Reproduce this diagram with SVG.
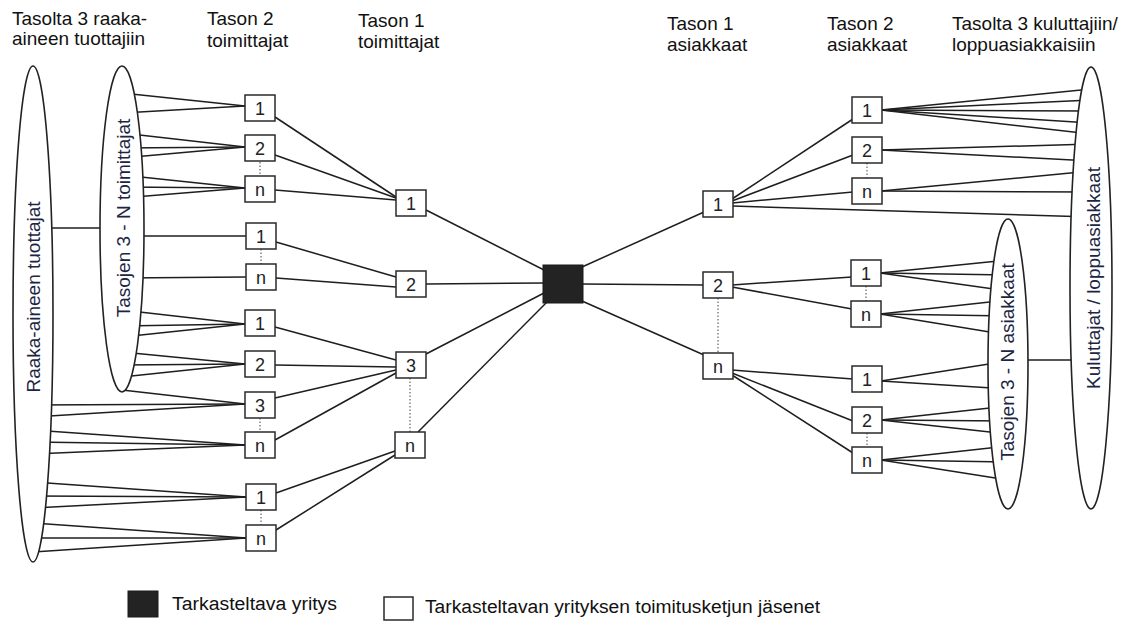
<svg xmlns="http://www.w3.org/2000/svg" width="1134" height="621" viewBox="0 0 1134 621">
  <style>
    .hdr { font-family: "Liberation Sans", Arial, sans-serif; font-size: 19px; fill: #111; }
    .vt { font-family: "Liberation Sans", Arial, sans-serif; font-size: 19px; fill: #1c2542; text-anchor: middle; }
    .num { font-family: "Liberation Sans", Arial, sans-serif; font-size: 18px; fill: #222; text-anchor: middle; }
    .leg { font-family: "Liberation Sans", Arial, sans-serif; font-size: 18px; fill: #111; }
    .box { fill: #fff; stroke: #2a2a2a; stroke-width: 1.5; }
    .core { fill: #232323; stroke: #1a1a1a; stroke-width: 1; }
    .oval { fill: #fff; stroke: #222; stroke-width: 1.6; }
    .lnk line { stroke: #1e1e1e; stroke-width: 1.5; }
    .dots line { stroke: #444; stroke-width: 1; stroke-dasharray: 1.5 2; }
  </style>
  <defs>
    <rect id="b" class="box" x="-15" y="-13" width="30" height="26"/>
  </defs>

  <rect width="1134" height="621" fill="#fff"/>

  <!-- column headings -->
  <g id="headings">
    <text class="hdr" x="12" y="25">Tasolta 3 raaka-</text>
    <text class="hdr" x="12" y="45">aineen tuottajiin</text>
    <text class="hdr" x="207" y="25">Tason 2</text>
    <text class="hdr" x="207" y="47">toimittajat</text>
    <text class="hdr" x="358" y="27">Tason 1</text>
    <text class="hdr" x="358" y="48">toimittajat</text>
    <text class="hdr" x="667" y="30">Tason 1</text>
    <text class="hdr" x="667" y="51">asiakkaat</text>
    <text class="hdr" x="827" y="30">Tason 2</text>
    <text class="hdr" x="827" y="51">asiakkaat</text>
    <text class="hdr" x="952" y="30">Tasolta 3 kuluttajiin/</text>
    <text class="hdr" x="952" y="51">loppuasiakkaisiin</text>
  </g>

  <!-- connectors -->
  <g id="connectors">
    <g class="lnk">
      <!-- raw material producers to tier 3..N suppliers -->
      <line x1="33" y1="228" x2="122" y2="228"/>
      <!-- tier 3..N suppliers to tier 2 suppliers -->
      <line x1="122" y1="93" x2="245" y2="106"/>
      <line x1="122" y1="113" x2="245" y2="106"/>
      <line x1="122" y1="133" x2="245" y2="147"/>
      <line x1="122" y1="148" x2="245" y2="147"/>
      <line x1="122" y1="158" x2="245" y2="147"/>
      <line x1="122" y1="175" x2="245" y2="188"/>
      <line x1="122" y1="187" x2="245" y2="188"/>
      <line x1="122" y1="198" x2="245" y2="188"/>
      <line x1="122" y1="236" x2="246" y2="236"/>
      <line x1="122" y1="278" x2="246" y2="277"/>
      <line x1="122" y1="310" x2="245" y2="324"/>
      <line x1="122" y1="326" x2="245" y2="324"/>
      <line x1="122" y1="337" x2="245" y2="324"/>
      <line x1="122" y1="352" x2="245" y2="364"/>
      <line x1="122" y1="365" x2="245" y2="364"/>
      <line x1="122" y1="377" x2="245" y2="364"/>
      <line x1="122" y1="390" x2="245" y2="404"/>
      <!-- raw material producers to tier 2 suppliers -->
      <line x1="33" y1="405" x2="245" y2="404"/>
      <line x1="33" y1="417" x2="245" y2="404"/>
      <line x1="33" y1="430" x2="245" y2="445"/>
      <line x1="33" y1="442" x2="245" y2="445"/>
      <line x1="33" y1="454" x2="245" y2="445"/>
      <line x1="33" y1="482" x2="246" y2="497"/>
      <line x1="33" y1="496" x2="246" y2="497"/>
      <line x1="33" y1="508" x2="246" y2="497"/>
      <line x1="33" y1="523" x2="246" y2="538"/>
      <line x1="33" y1="538" x2="246" y2="538"/>
      <line x1="33" y1="552" x2="246" y2="538"/>
      <!-- tier 2 to tier 1 suppliers -->
      <line x1="275" y1="117" x2="396" y2="197"/>
      <line x1="275" y1="155" x2="396" y2="198"/>
      <line x1="275" y1="190" x2="396" y2="200"/>
      <line x1="276" y1="242" x2="396" y2="277"/>
      <line x1="276" y1="278" x2="396" y2="287"/>
      <line x1="275" y1="327" x2="396" y2="360"/>
      <line x1="275" y1="365" x2="396" y2="367"/>
      <line x1="275" y1="398" x2="396" y2="370"/>
      <line x1="275" y1="440" x2="396" y2="373"/>
      <line x1="276" y1="493" x2="395" y2="451"/>
      <line x1="276" y1="530" x2="395" y2="455"/>
      <!-- tier 1 suppliers to focal company -->
      <line x1="426" y1="210" x2="544" y2="270"/>
      <line x1="426" y1="284" x2="544" y2="283"/>
      <line x1="426" y1="354" x2="544" y2="293"/>
      <line x1="418" y1="432" x2="547" y2="302"/>
      <!-- focal company to tier 1 customers -->
      <line x1="582" y1="267" x2="704" y2="212"/>
      <line x1="582" y1="284" x2="704" y2="285"/>
      <line x1="582" y1="301" x2="704" y2="355"/>
      <!-- tier 1 to tier 2 customers -->
      <line x1="732" y1="199" x2="853" y2="119"/>
      <line x1="732" y1="201" x2="853" y2="155"/>
      <line x1="732" y1="203" x2="853" y2="192"/>
      <line x1="732" y1="206" x2="1091" y2="217"/>
      <line x1="732" y1="285" x2="852" y2="277"/>
      <line x1="732" y1="287" x2="852" y2="309"/>
      <line x1="732" y1="370" x2="853" y2="379"/>
      <line x1="732" y1="373" x2="853" y2="421"/>
      <line x1="732" y1="375" x2="853" y2="453"/>
      <!-- tier 2 customers to end customers -->
      <line x1="881" y1="110" x2="1091" y2="89"/>
      <line x1="881" y1="110" x2="1091" y2="100"/>
      <line x1="881" y1="110" x2="1091" y2="111"/>
      <line x1="881" y1="110" x2="1091" y2="123"/>
      <line x1="881" y1="110" x2="1091" y2="134"/>
      <line x1="881" y1="150" x2="1091" y2="144"/>
      <line x1="881" y1="150" x2="1091" y2="161"/>
      <line x1="881" y1="191" x2="1091" y2="171"/>
      <line x1="881" y1="191" x2="1091" y2="192"/>
      <!-- tier 2 customers to tier 3..N customers -->
      <line x1="880" y1="273" x2="1008" y2="260"/>
      <line x1="880" y1="273" x2="1008" y2="275"/>
      <line x1="880" y1="273" x2="1008" y2="291"/>
      <line x1="880" y1="314" x2="1008" y2="300"/>
      <line x1="880" y1="314" x2="1008" y2="316"/>
      <line x1="880" y1="314" x2="1008" y2="335"/>
      <line x1="881" y1="381" x2="1008" y2="361"/>
      <line x1="881" y1="381" x2="1008" y2="389"/>
      <line x1="881" y1="420" x2="1008" y2="406"/>
      <line x1="881" y1="420" x2="1008" y2="421"/>
      <line x1="881" y1="420" x2="1008" y2="434"/>
      <line x1="881" y1="460" x2="1008" y2="446"/>
      <line x1="881" y1="460" x2="1008" y2="462"/>
      <line x1="881" y1="460" x2="1008" y2="480"/>
      <!-- tier 3..N customers to end customers -->
      <line x1="1008" y1="360" x2="1091" y2="360"/>
    </g>
    <g class="dots">
      <line x1="260" y1="162" x2="260" y2="176"/>
      <line x1="261" y1="249" x2="261" y2="264"/>
      <line x1="260" y1="418" x2="260" y2="432"/>
      <line x1="261" y1="510" x2="261" y2="525"/>
      <line x1="410" y1="378" x2="410" y2="432"/>
      <line x1="718" y1="298" x2="718" y2="353"/>
      <line x1="867" y1="163" x2="867" y2="178"/>
      <line x1="866" y1="286" x2="866" y2="301"/>
      <line x1="867" y1="433" x2="867" y2="447"/>
    </g>
  </g>

  <!-- groupings drawn as ovals -->
  <g id="raw-material-producers">
    <ellipse class="oval" cx="33" cy="314" rx="20" ry="248"/>
    <text class="vt" transform="translate(33,297) rotate(-90)" dy="0.35em">Raaka-aineen tuottajat</text>
  </g>
  <g id="tier3n-suppliers">
    <ellipse class="oval" cx="122" cy="229" rx="22" ry="163"/>
    <text class="vt" transform="translate(123,218) rotate(-90)" dy="0.35em">Tasojen 3 - N toimittajat</text>
  </g>
  <g id="tier3n-customers">
    <ellipse class="oval" cx="1008" cy="364" rx="20" ry="145"/>
    <text class="vt" transform="translate(1007,362) rotate(-90)" dy="0.35em">Tasojen 3 - N asiakkaat</text>
  </g>
  <g id="end-customers">
    <ellipse class="oval" cx="1091" cy="288" rx="21" ry="221"/>
    <text class="vt" transform="translate(1093,278) rotate(-90)" dy="0.35em">Kuluttajat / loppuasiakkaat</text>
  </g>

  <!-- tier 2 suppliers -->
  <g id="s2-a1" transform="translate(260,108)"><use href="#b"/><text class="num" y="6.5">1</text></g>
  <g id="s2-a2" transform="translate(260,148)"><use href="#b"/><text class="num" y="6.5">2</text></g>
  <g id="s2-an" transform="translate(260,189)"><use href="#b"/><text class="num" y="6.5">n</text></g>
  <g id="s2-b1" transform="translate(261,236)"><use href="#b"/><text class="num" y="6.5">1</text></g>
  <g id="s2-bn" transform="translate(261,277)"><use href="#b"/><text class="num" y="6.5">n</text></g>
  <g id="s2-c1" transform="translate(260,323)"><use href="#b"/><text class="num" y="6.5">1</text></g>
  <g id="s2-c2" transform="translate(260,364)"><use href="#b"/><text class="num" y="6.5">2</text></g>
  <g id="s2-c3" transform="translate(260,405)"><use href="#b"/><text class="num" y="6.5">3</text></g>
  <g id="s2-cn" transform="translate(260,445)"><use href="#b"/><text class="num" y="6.5">n</text></g>
  <g id="s2-d1" transform="translate(261,497)"><use href="#b"/><text class="num" y="6.5">1</text></g>
  <g id="s2-dn" transform="translate(261,538)"><use href="#b"/><text class="num" y="6.5">n</text></g>

  <!-- tier 1 suppliers -->
  <g id="s1-1" transform="translate(411,203)"><use href="#b"/><text class="num" y="6.5">1</text></g>
  <g id="s1-2" transform="translate(411,284)"><use href="#b"/><text class="num" y="6.5">2</text></g>
  <g id="s1-3" transform="translate(411,365)"><use href="#b"/><text class="num" y="6.5">3</text></g>
  <g id="s1-n" transform="translate(410,445)"><use href="#b"/><text class="num" y="6.5">n</text></g>

  <!-- focal company -->
  <g id="focal-company">
    <rect class="core" x="543" y="265" width="40" height="38"/>
  </g>

  <!-- tier 1 customers -->
  <g id="c1-1" transform="translate(718,204)"><use href="#b"/><text class="num" y="6.5">1</text></g>
  <g id="c1-2" transform="translate(718,285)"><use href="#b"/><text class="num" y="6.5">2</text></g>
  <g id="c1-n" transform="translate(718,366)"><use href="#b"/><text class="num" y="6.5">n</text></g>

  <!-- tier 2 customers -->
  <g id="c2-a1" transform="translate(867,110)"><use href="#b"/><text class="num" y="6.5">1</text></g>
  <g id="c2-a2" transform="translate(867,150)"><use href="#b"/><text class="num" y="6.5">2</text></g>
  <g id="c2-an" transform="translate(867,191)"><use href="#b"/><text class="num" y="6.5">n</text></g>
  <g id="c2-b1" transform="translate(866,273)"><use href="#b"/><text class="num" y="6.5">1</text></g>
  <g id="c2-bn" transform="translate(866,314)"><use href="#b"/><text class="num" y="6.5">n</text></g>
  <g id="c2-c1" transform="translate(867,379)"><use href="#b"/><text class="num" y="6.5">1</text></g>
  <g id="c2-c2" transform="translate(867,420)"><use href="#b"/><text class="num" y="6.5">2</text></g>
  <g id="c2-cn" transform="translate(867,460)"><use href="#b"/><text class="num" y="6.5">n</text></g>

  <!-- legend -->
  <g id="legend">
    <rect class="core" x="128" y="591" width="30" height="26"/>
    <text class="leg" x="172" y="610" textLength="165" lengthAdjust="spacingAndGlyphs">Tarkasteltava yritys</text>
    <rect class="box" x="384" y="597" width="29" height="23"/>
    <text class="leg" x="425" y="613" textLength="395" lengthAdjust="spacingAndGlyphs">Tarkasteltavan yrityksen toimitusketjun jäsenet</text>
  </g>
</svg>
